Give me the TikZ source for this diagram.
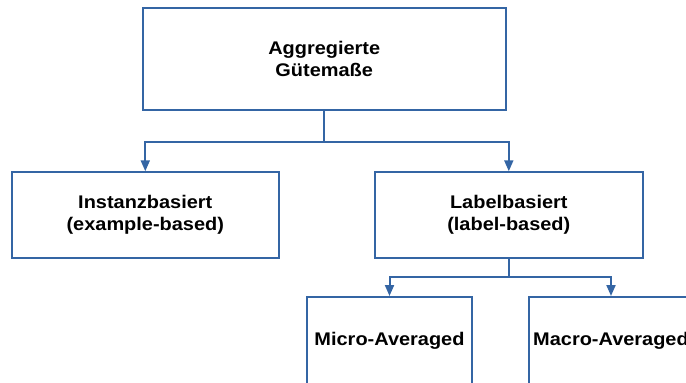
\documentclass[tikz,border=0pt]{standalone}
\usepackage{fontspec}
\setmainfont{Liberation Sans}[FakeStretch=1.09]
\usetikzlibrary{arrows.meta}
\definecolor{boxblue}{RGB}{52,101,164}
\begin{document}
\begin{tikzpicture}[x=1pt,y=-1pt,
  box/.style={draw=boxblue,line width=2pt,fill=white,inner sep=0pt,
    align=center,font=\fontsize{18.3}{22.3}\selectfont\bfseries,text=black},
  conn/.style={draw=boxblue,line width=2pt,-{Triangle[width=9pt,length=11pt]}}]
\useasboundingbox (0,0) rectangle (686,383);
\clip (0,0) rectangle (686,383);
\node[box,minimum width=363.5pt,minimum height=102pt] (top) at (324.25,59) {Aggregierte\\Gütemaße};
\node[box,minimum width=266.5pt,minimum height=85.5pt] (inst) at (145.3,215) {Instanzbasiert\\(example-based)};
\node[box,minimum width=267.5pt,minimum height=85.5pt] (lab) at (508.8,215) {Labelbasiert\\(label-based)};
\node[box,minimum width=165pt,minimum height=88pt] (micro) at (389.5,341) {Micro-Averaged};
\node[box,minimum width=165pt,minimum height=88pt] (macro) at (611,341) {Macro-Averaged};
\draw[conn] (top.south) -- ++(0,30.7) -| (inst.north);
\draw[conn] (top.south) -- ++(0,30.7) -| (lab.north);
\draw[conn] (lab.south) -- ++(0,18.5) -| (micro.north);
\draw[conn] (lab.south) -- ++(0,18.5) -| (macro.north);
\end{tikzpicture}
\end{document}
